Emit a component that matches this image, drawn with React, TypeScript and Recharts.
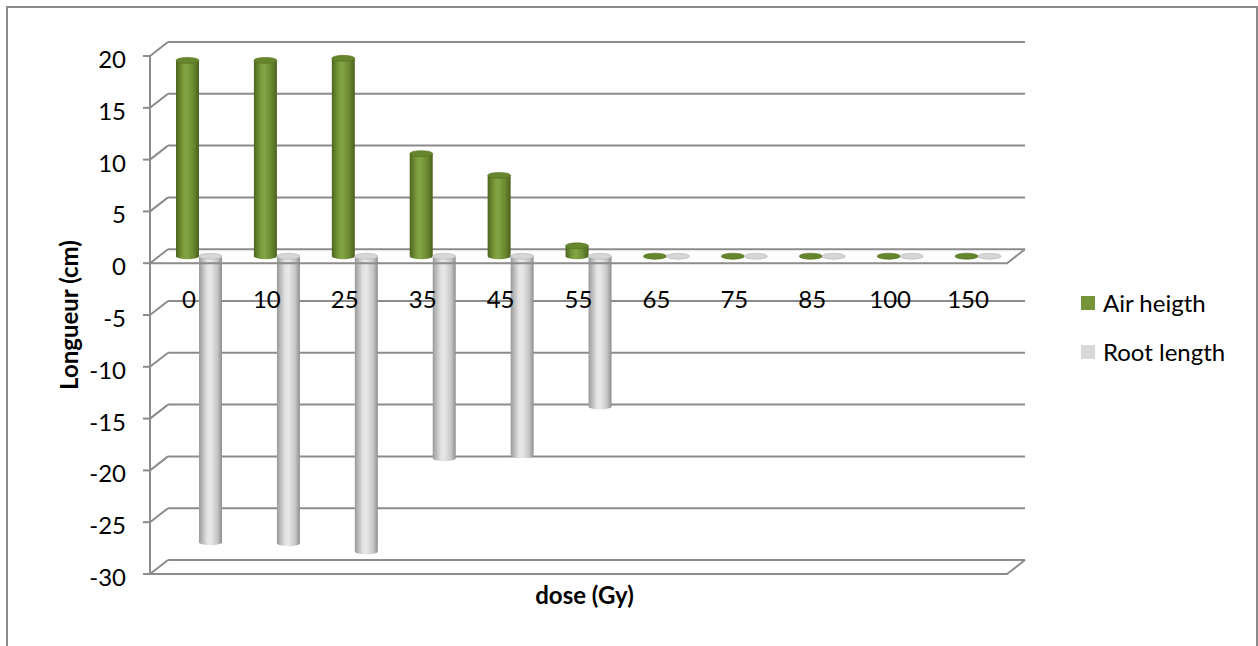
import React from 'react';
import {
  BarChart,
  Bar,
  XAxis,
  YAxis,
  CartesianGrid,
  ReferenceLine,
  Legend,
  Label
} from 'recharts';

const doses = ['0', '10', '25', '35', '45', '55', '65', '75', '85', '100', '150'];
const airHeight = [18.9, 18.9, 19.1, 9.9, 7.8, 1.0, 0, 0, 0, 0, 0];
const rootLength = [-27.6, -27.7, -28.5, -19.5, -19.2, -14.5, 0, 0, 0, 0, 0];
const yTicks = [-30, -25, -20, -15, -10, -5, 0, 5, 10, 15, 20];

const data = doses.map((dose, i) => ({
  dose,
  air: airHeight[i],
  root: rootLength[i]
}));

// Pseudo-3D box: the plot area is the back wall, the front plane sits DX left and DY lower.
// Bars stand half way in between.
const DX = 18;
const DY = 14;
const BAR_DX = -8;
const BAR_DY = 7;
const GRID = '#8c8c8c';
const FONT = 'Lato, "Noto Sans", sans-serif';

const makeCylinder = (bodyId: string, cap: string, capEdge: string) => (props: any) => {
  const { x, y, width, height } = props;
  if (x == null || y == null) return null;
  const h = height || 0;
  const left = x + BAR_DX;
  const top = Math.min(y, y + h) + BAR_DY;
  const bottom = Math.max(y, y + h) + BAR_DY;
  const rx = width / 2;
  const ry = 3;
  return (
    <g>
      <path
        d={`M${left},${top} L${left},${bottom} A${rx},${ry} 0 0 0 ${left + width},${bottom} L${left + width},${top} Z`}
        fill={`url(#${bodyId})`}
      />
      <ellipse cx={left + rx} cy={top} rx={rx} ry={ry} fill={cap} stroke={capEdge} strokeWidth={0.6} />
    </g>
  );
};

const GreenCylinder = makeCylinder('greenBody', '#67852c', '#55701f');
const GreyCylinder = makeCylinder('greyBody', '#d6d6d6', '#b5b5b5');

// front tick label, tick mark and the side-wall diagonal for each value
const YTick = (props: any) => {
  const { x, y, payload } = props;
  const fx = x - DX;
  const fy = y + DY;
  return (
    <g>
      <line x1={fx} y1={fy} x2={x} y2={y} stroke={GRID} strokeWidth={2} />
      <line x1={fx - 7} y1={fy} x2={fx} y2={fy} stroke={GRID} strokeWidth={2} />
      <text x={fx - 24} y={fy + 12} textAnchor="end" fontFamily={FONT} fontSize={24} fill="#000">
        {payload.value}
      </text>
    </g>
  );
};

const XTick = (props: any) => {
  const { x, payload } = props;
  return (
    <text x={x - DX} y={308} textAnchor="middle" fontFamily={FONT} fontSize={24} fill="#000">
      {payload.value}
    </text>
  );
};

// front edge of a horizontal plane plus its right-hand depth edge
const FrontEdge = (props: any) => {
  const { x1, y1, x2 } = props;
  if (x1 == null) return null;
  return (
    <polyline
      points={`${x1 - DX},${y1 + DY} ${x2 - DX},${y1 + DY} ${x2},${y1}`}
      fill="none"
      stroke={GRID}
      strokeWidth={2}
    />
  );
};

const renderLegend = (props: any) => (
  <div style={{ fontFamily: FONT, fontSize: 24, color: '#000' }}>
    {(props.payload || []).map((entry: any) => (
      <div key={entry.value} style={{ display: 'flex', alignItems: 'center', height: 49 }}>
        <span style={{ width: 14, height: 14, background: entry.color, marginRight: 8 }} />
        <span>{entry.value}</span>
      </div>
    ))}
  </div>
);

const App = () => (
  <div style={{ position: 'absolute', left: 0, top: 0, width: 1258, height: 646, background: '#fff' }}>
    <div
      style={{
        position: 'absolute',
        left: 6,
        top: 6,
        width: 1248,
        height: 700,
        border: '2px solid #8a8a8a'
      }}
    />
    <div style={{ position: 'absolute', left: 0, top: 0 }}>
      <BarChart
        width={1258}
        height={646}
        data={data}
        margin={{ top: 42, right: 233, bottom: 26, left: 40 }}
        barSize={23}
        barGap={0}
      >
        <defs>
          <linearGradient id="greenBody" x1="0" y1="0" x2="1" y2="0">
            <stop offset="0%" stopColor="#4d661f" />
            <stop offset="30%" stopColor="#7b9b3b" />
            <stop offset="45%" stopColor="#84a546" />
            <stop offset="75%" stopColor="#6c8a31" />
            <stop offset="100%" stopColor="#4a621e" />
          </linearGradient>
          <linearGradient id="greyBody" x1="0" y1="0" x2="1" y2="0">
            <stop offset="0%" stopColor="#9a9a9a" />
            <stop offset="35%" stopColor="#e2e2e2" />
            <stop offset="50%" stopColor="#e8e8e8" />
            <stop offset="80%" stopColor="#c6c6c6" />
            <stop offset="100%" stopColor="#8e8e8e" />
          </linearGradient>
        </defs>
        <CartesianGrid vertical={false} stroke={GRID} strokeWidth={2} />
        <XAxis
          dataKey="dose"
          height={60}
          axisLine={false}
          tickLine={false}
          tick={<XTick />}
          interval={0}
        >
          <Label
            content={(p: any) => {
              const vb = p.viewBox || {};
              return (
                <text
                  x={vb.x + vb.width / 2 - 12}
                  y={vb.y + 44}
                  textAnchor="middle"
                  fontFamily={FONT}
                  fontWeight="bold"
                  fontSize={24}
                >
                  dose (Gy)
                </text>
              );
            }}
          />
        </XAxis>
        <YAxis
          width={128}
          domain={[-30, 20]}
          ticks={yTicks}
          interval={0}
          tickSize={0}
          tickMargin={0}
          tickLine={false}
          axisLine={{ stroke: GRID, strokeWidth: 2, transform: `translate(${-DX},${DY})` }}
          tick={<YTick />}
        >
          <Label
            content={(p: any) => {
              const vb = p.viewBox || {};
              const cx = vb.x + 28;
              const cy = vb.y + vb.height / 2 + DY;
              return (
                <text
                  x={cx}
                  y={cy}
                  transform={`rotate(-90 ${cx} ${cy})`}
                  textAnchor="middle"
                  dominantBaseline="central"
                  fontFamily={FONT}
                  fontWeight="bold"
                  fontSize={24}
                >
                  Longueur (cm)
                </text>
              );
            }}
          />
        </YAxis>
        <ReferenceLine y={0} shape={<FrontEdge />} />
        <ReferenceLine y={-30} shape={<FrontEdge />} />
        <Bar dataKey="air" name="Air heigth" fill="#77933c" shape={GreenCylinder} isAnimationActive={false} />
        <Bar dataKey="root" name="Root length" fill="#d9d9d9" shape={GreyCylinder} isAnimationActive={false} />
        <Legend
          layout="vertical"
          align="center"
          verticalAlign="middle"
          content={renderLegend}
          wrapperStyle={{ left: 1081, top: 278, width: 175 }}
        />
      </BarChart>
    </div>
  </div>
);

export default App;
